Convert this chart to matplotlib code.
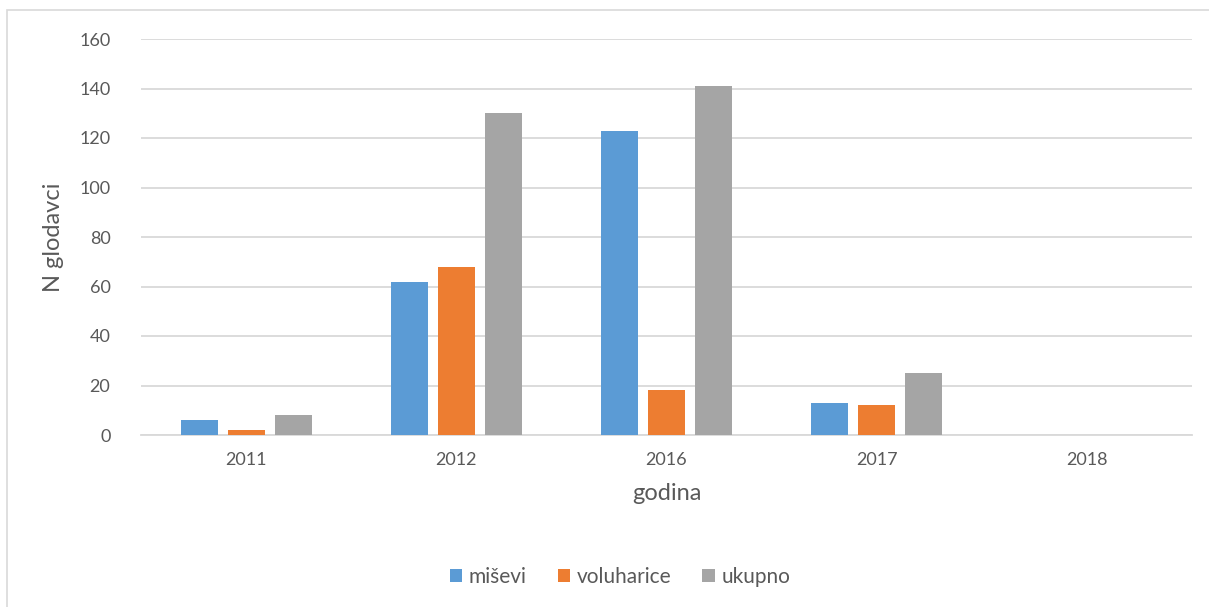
import numpy as np
import matplotlib
matplotlib.use("Agg")
import matplotlib.pyplot as plt
from matplotlib.patches import Rectangle

plt.rcParams["font.family"] = ["Lato", "DejaVu Sans"]

years = ["2011", "2012", "2016", "2017", "2018"]
misevi = [6, 62, 123, 13, 0]
voluharice = [2, 68, 18, 12, 0]
ukupno = [8, 130, 141, 25, 0]

series = [
    ("miševi", misevi, "#5B9BD5"),
    ("voluharice", voluharice, "#ED7D31"),
    ("ukupno", ukupno, "#A5A5A5"),
]

txt = "#595959"
W, H = 1209, 607
fig = plt.figure(figsize=(W / 100, H / 100), dpi=100)
# light frame around the chart area
fig.patches.append(Rectangle((7 / W, -0.01), 1.2, (H - 10) / H + 0.01,
                             transform=fig.transFigure, fill=False,
                             edgecolor="#D9D9D9", linewidth=1.2))

ax = fig.add_axes([141 / W, 1 - 435 / H, 1051 / W, 396 / H])
x = np.arange(len(years))
width = 0.176
step = 0.224
for i, (name, vals, col) in enumerate(series):
    ax.bar(x + (i - 1) * step, vals, width, color=col, label=name, zorder=3)

ax.set_xlim(-0.5, len(years) - 0.5)
ax.set_ylim(0, 160)
ax.set_yticks(range(0, 161, 20))
ax.set_xticks(x)
ax.set_xticklabels(years)
ax.yaxis.grid(True, color="#D9D9D9", linewidth=1.3, zorder=0)
ax.set_axisbelow(True)
for s in ["top", "right", "left"]:
    ax.spines[s].set_visible(False)
ax.spines["bottom"].set_color("#D9D9D9")
ax.spines["bottom"].set_linewidth(1.3)
ax.tick_params(axis="both", length=0, labelsize=13, colors=txt)
ax.tick_params(axis="y", pad=22)
ax.tick_params(axis="x", pad=12)

ax.set_xlabel("godina", fontsize=17, color=txt, labelpad=11)
ax.set_ylabel("N glodavci", fontsize=17, color=txt, labelpad=11)

fig.legend(loc="center", bbox_to_anchor=(620 / W, 1 - 577 / H), ncol=3,
           frameon=False, fontsize=15, handlelength=0.6, handleheight=0.6,
           handletextpad=0.3, columnspacing=1.5, labelcolor=txt)

fig.savefig("out.png", dpi=100)
